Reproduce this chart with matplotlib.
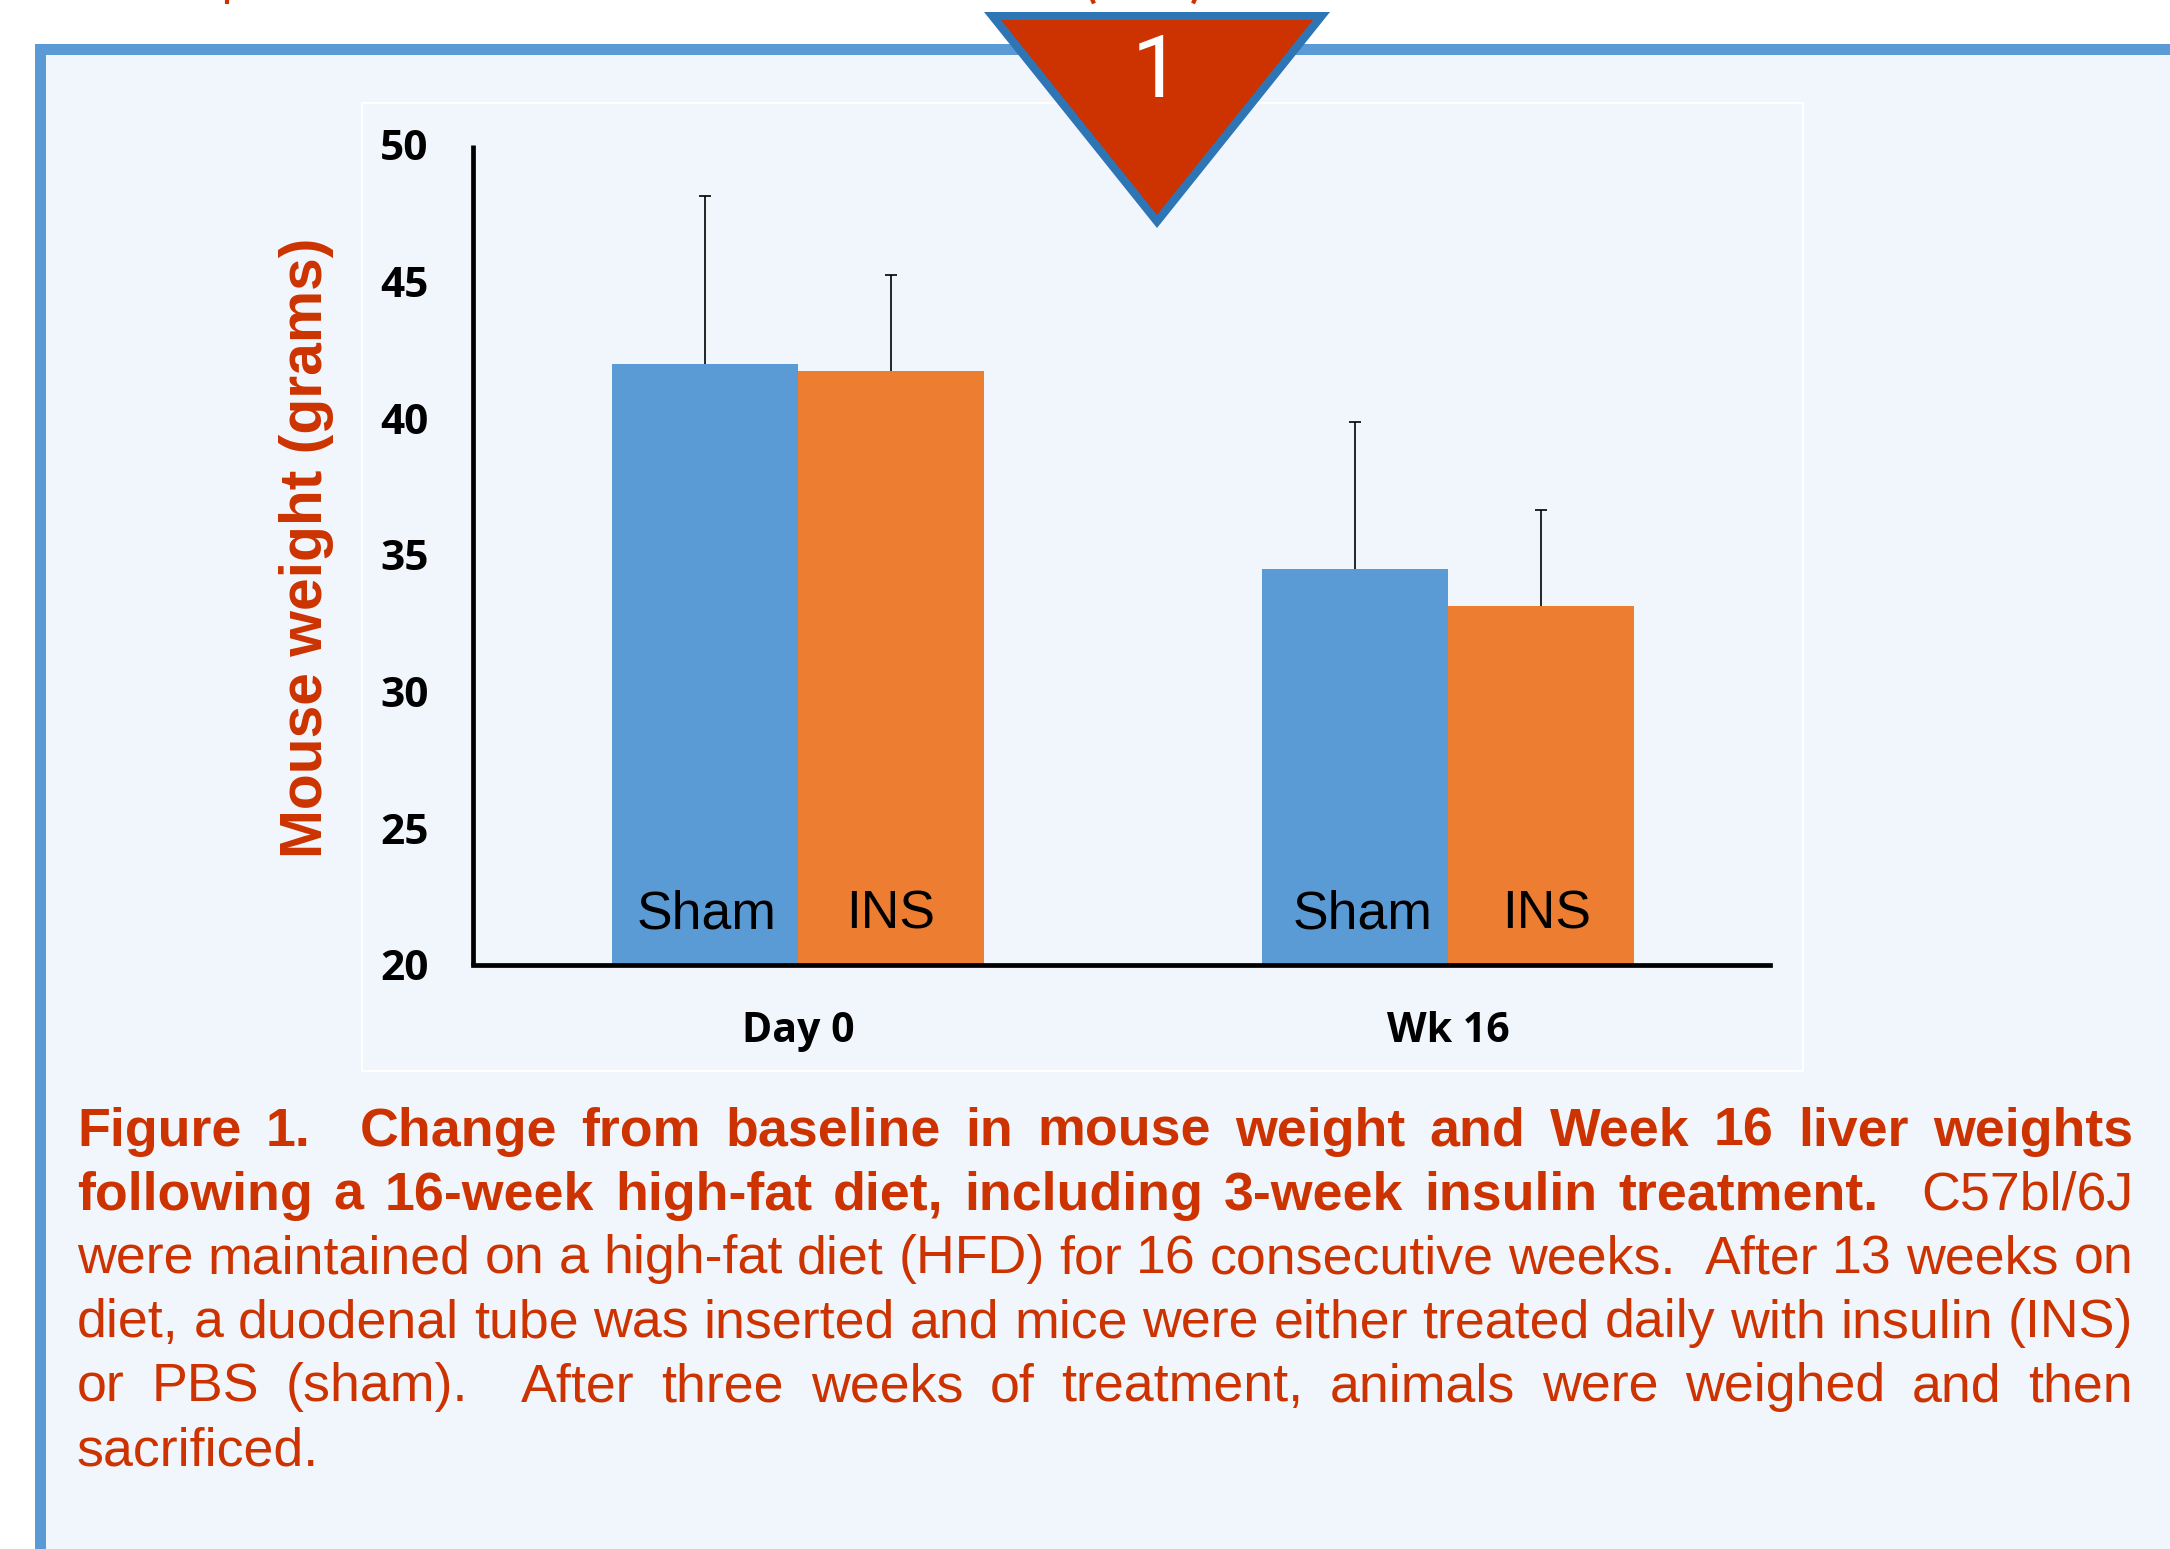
import matplotlib
matplotlib.use("Agg")
import matplotlib.pyplot as plt
from matplotlib.patches import Rectangle, Polygon
from matplotlib.lines import Line2D

W, H = 2170, 1549
categories = ["Day 0", "Wk 16"]
groups = ["Sham", "INS"]
sham_vals = [42.0, 34.5]
ins_vals = [41.75, 33.13]
sham_err = [6.13, 5.37]
ins_err = [3.5, 3.5]
yticks = [20, 25, 30, 35, 40, 45, 50]
ylabel = "Mouse weight (grams)"
RED = "#CC3300"
BLUE = "#5B9BD5"
ORANGE = "#ED7D31"
BG = "#F1F6FD"
HELV = "Liberation Sans"

fig = plt.figure(figsize=(W / 100, H / 100), dpi=100, facecolor="white")
def fx(x): return x / W
def fy(y): return 1 - y / H
def frect(x0, y0, x1, y1, **kw):
    fig.add_artist(Rectangle((fx(x0), fy(y1)), (x1 - x0) / W, (y1 - y0) / H,
                             transform=fig.transFigure, zorder=-5, **kw))

# page frame and chart panel
frect(35, 44, W + 20, H + 20, facecolor=BG, edgecolor="none")
frect(35, 44, W, 55, facecolor=BLUE, edgecolor="none")
frect(35, 44, 45.5, H, facecolor=BLUE, edgecolor="none")
frect(362, 103, 1803, 1071, facecolor="none", edgecolor="white", linewidth=1.5)

# slivers of the cropped heading above the frame
for x0, x1 in [(227, 227), (1092, 1094), (1195, 1193)]:
    fig.add_artist(Line2D([fx(x0), fx(x1)], [fy(-1), fy(3.5)], color=RED, linewidth=3,
                          transform=fig.transFigure, solid_capstyle="butt"))

# chart
ax = fig.add_axes([fx(473), fy(965), (1773 - 473) / W, (965 - 145) / H])
ax.patch.set_alpha(0)
ax.set_xlim(0, 2)
ax.set_ylim(20, 50)
width = 0.286
xpos = [0.5, 1.5]
ek = dict(ecolor="black", elinewidth=1.2, capsize=4.3, capthick=1.2)
b1 = ax.bar([x - width / 2 for x in xpos], sham_vals, width, color=BLUE,
            yerr=[[0, 0], sham_err], error_kw=ek, zorder=2)
b2 = ax.bar([x + width / 2 for x in xpos], ins_vals, width, color=ORANGE,
            yerr=[[0, 0], ins_err], error_kw=ek, zorder=2)
for b in (b1, b2):
    b.errorbar.lines[1][0].set_visible(False)  # no lower cap
for s in ("top", "right"):
    ax.spines[s].set_visible(False)
for s in ("left", "bottom"):
    ax.spines[s].set_linewidth(3.4)
    ax.spines[s].set_zorder(3)
ax.spines["left"].set_capstyle("butt")
ax.spines["bottom"].set_bounds(0, 1.996)
ax.set_yticks(yticks)
ax.set_xticks(xpos)
ax.set_xticklabels(categories)
ax.tick_params(axis="both", length=0)
ax.tick_params(axis="y", pad=32)
ax.tick_params(axis="x", pad=33)
for t in ax.get_yticklabels():
    t.set_family("Open Sans"); t.set_weight("bold"); t.set_fontsize(30.5); t.set_color("black")
for t in ax.get_xticklabels():
    t.set_family("Open Sans"); t.set_weight("bold"); t.set_fontsize(29.5); t.set_color("black")

for i, x in enumerate(xpos):
    for g, dx, nudge in zip(groups, (-width / 2, width / 2), (0.003, 0.0)):
        shift = 0.008 if (i == 1) else 0.0
        ax.annotate(g, xy=(x + dx + shift + nudge, 20), xycoords="data",
                    xytext=(0, 26), textcoords="offset points", ha="center", va="baseline",
                    family=HELV, fontsize=38.5, color="black", zorder=4)

fig.text(fx(306), fy(548), ylabel, rotation=90, ha="center", va="center",
         family=HELV, weight="bold", fontsize=42.3, color=RED)

# triangle marker
fig.add_artist(Polygon([(fx(984), fy(12)), (fx(1330), fy(12)), (fx(1157), fy(228))],
                       closed=True, transform=fig.transFigure, facecolor="#2E75B6", edgecolor="none", zorder=5))
fig.add_artist(Polygon([(fx(1001), fy(20)), (fx(1313), fy(20)), (fx(1157), fy(215))],
                       closed=True, transform=fig.transFigure, facecolor=RED, edgecolor="none", zorder=6))
fig.text(fx(1156), fy(97), "1", color="white", family="Roboto", fontsize=63, ha="center",
         va="baseline", zorder=7)

# justified caption: (line of (word, bold) runs, justify?)
caption = [
    ([("Figure", 1), ("1.", 1), ("", 1), ("Change", 1), ("from", 1), ("baseline", 1), ("in", 1), ("mouse", 1),
      ("weight", 1), ("and", 1), ("Week", 1), ("16", 1), ("liver", 1), ("weights", 1)], True, 1146),
    ([("following", 1), ("a", 1), ("16-week", 1), ("high-fat", 1), ("diet,", 1), ("including", 1), ("3-week", 1),
      ("insulin", 1), ("treatment.", 1), ("", 0), ("C57bl/6J", 0)], True, 1210),
    ([(w, 0) for w in "were maintained on a high-fat diet (HFD) for 16 consecutive weeks.".split()] + [("", 0)] +
     [(w, 0) for w in "After 13 weeks on".split()], True, 1273),
    ([(w, 0) for w in "diet, a duodenal tube was inserted and mice were either treated daily with insulin (INS)".split()],
     True, 1337),
    ([(w, 0) for w in "or PBS (sham).".split()] + [("", 0)] +
     [(w, 0) for w in "After three weeks of treatment, animals were weighed and then".split()], True, 1401),
    ([("sacrificed.", 0)], False, 1465),
]
L, R = 77, 2133
FS = 38.7
renderer = fig.canvas.get_renderer()
for words, just, base in caption:
    items = []
    for w, b in words:
        if w == "":
            continue
        t = fig.text(fx(L), fy(base), w, color=RED, family=HELV, fontsize=FS,
                     weight="bold" if b else "normal", ha="left", va="baseline")
        items.append((t, t.get_window_extent(renderer).width))
    gaps = []
    prev_empty = False
    for k, (w, b) in enumerate(words):
        if w == "":
            prev_empty = True
            continue
        gaps.append(2 if prev_empty else 1)
        prev_empty = False
    gaps = gaps[1:]
    total = sum(wd for _, wd in items)
    gap = (R - L - total) / sum(gaps) if just and gaps else 0
    x = L
    for i, (t, wd) in enumerate(items):
        t.set_x(fx(x))
        if i < len(gaps):
            x += wd + gap * gaps[i]

fig.savefig("out.png", dpi=100)
